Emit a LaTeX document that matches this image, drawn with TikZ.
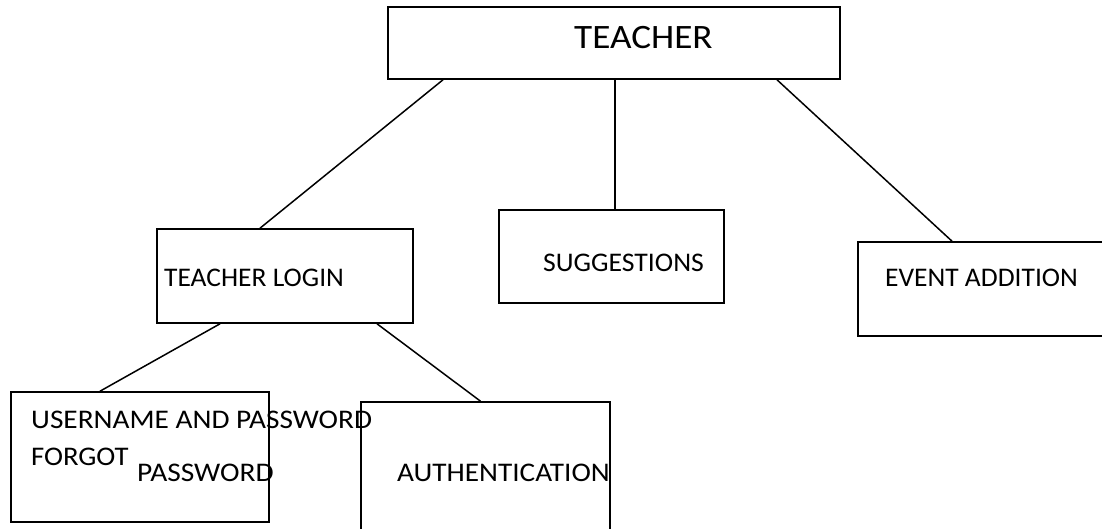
\documentclass[tikz,border=0pt]{standalone}
\usepackage{fontspec}
\setmainfont{Carlito}
\newcommand{\hs}[2]{\scalebox{#1}[1]{#2}}
\begin{document}
\begin{tikzpicture}[x=1pt,y=-1pt,
  box/.style={draw=black,line width=1.6pt,rectangle,inner sep=0pt},
  lbl/.style={anchor=base west,inner sep=0pt,font=\fontsize{26.9}{32}\selectfont},
  big/.style={anchor=base west,inner sep=0pt,font=\fontsize{34.2}{40}\selectfont},
  conn/.style={draw=black,line width=1.5pt}]
\useasboundingbox (0,0) rectangle (1102,529);
% boxes
\node[box,minimum width=452pt,minimum height=72pt] (teacher) at (614,43) {};
\node[box,minimum width=256pt,minimum height=94pt] (login) at (285,276) {};
\node[box,minimum width=225pt,minimum height=93pt] (sugg) at (611.5,256.5) {};
\node[box,minimum width=262pt,minimum height=94pt] (event) at (989,289) {};
\node[box,minimum width=258pt,minimum height=130pt] (user) at (140,457) {};
\node[box,minimum width=249pt,minimum height=170pt] (auth) at (485.5,487) {};
% texts
\node[big] (tteacher) at (574,49) {\hs{1.087}{TEACHER}};
\node[lbl] (tlogin) at (164,287) {\hs{1.022}{TEACHER LOGIN}};
\node[lbl] (tsugg) at (543,271) {\hs{1.03}{SUGGESTIONS}};
\node[lbl] (tevent) at (885,287) {\hs{1.022}{EVENT ADDITION}};
\node[lbl] (tuser) at (31,428) {\hs{1.09}{USERNAME AND PASSWORD}};
\node[lbl] (tforgot) at (31,465) {\hs{1.066}{FORGOT}};
\node[lbl] (tpass) at (137,481) {\hs{1.095}{PASSWORD}};
\node[lbl] (tauth) at (397,481) {\hs{1.087}{AUTHENTICATION}};
% connectors
\draw[conn] ([xshift=-171pt]teacher.south) -- ([xshift=-25pt]login.north);
\draw[conn] ([xshift=1pt]teacher.south) -- ([xshift=3.5pt]sugg.north);
\draw[conn] ([xshift=163pt]teacher.south) -- ([xshift=-37pt]event.north);
\draw[conn] ([xshift=-65pt]login.south) -- ([xshift=-40pt]user.north);
\draw[conn] ([xshift=92pt]login.south) -- ([xshift=-5pt]auth.north);
\end{tikzpicture}
\end{document}
